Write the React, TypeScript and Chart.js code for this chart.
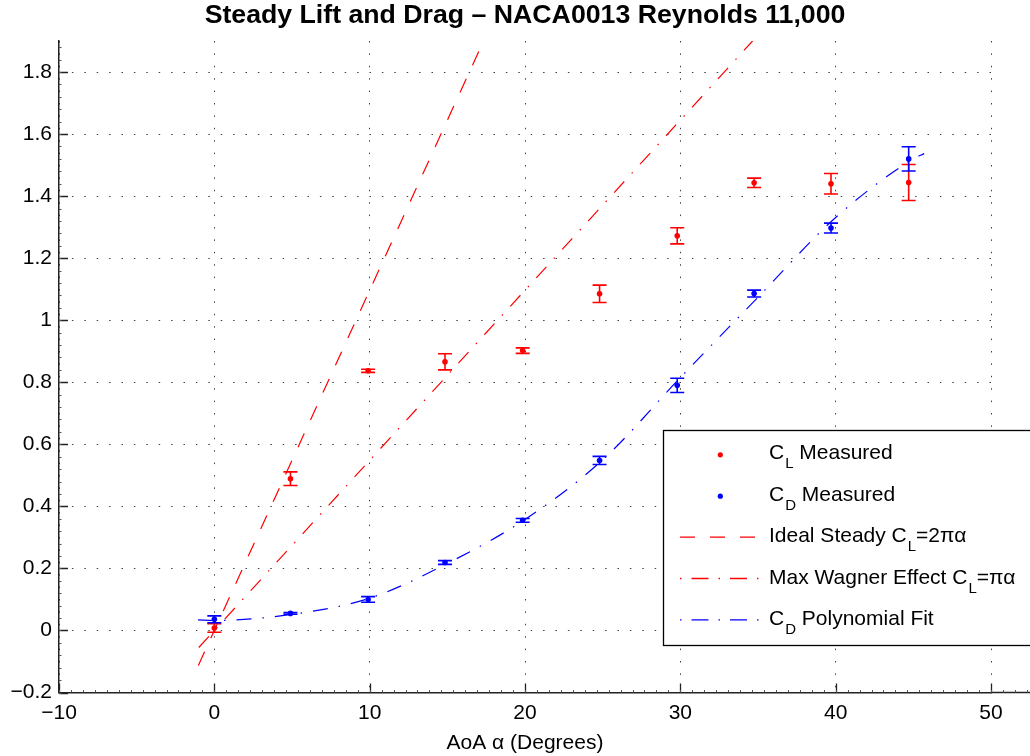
import React, { useEffect, useRef } from 'react';
import { Chart, registerables } from 'chart.js';

Chart.register(...registerables);

// ---------- data ----------
const alpha = [0, 4.9, 9.9, 14.85, 19.85, 24.8, 29.8, 34.75, 39.7, 44.7];
const clMeasured = [0.008, 0.489, 0.837, 0.866, 0.902, 1.085, 1.272, 1.443, 1.44, 1.444];
const clError = [0.014, 0.022, 0.005, 0.026, 0.009, 0.028, 0.026, 0.015, 0.033, 0.058];
const cdMeasured = [0.036, 0.055, 0.1, 0.219, 0.355, 0.548, 0.79, 1.086, 1.297, 1.52];
const cdError = [0.011, 0.003, 0.009, 0.006, 0.006, 0.013, 0.023, 0.011, 0.016, 0.039];

const idealX = [-1.03, 17.33];
const idealY = [-0.113, 1.9];
const wagnerX = [-1.0, 34.65];
const wagnerY = [-0.055, 1.9];
const fitX = [-1.05, 0, 5, 10, 15, 20, 25, 30, 35, 40, 45, 45.7];
const fitY = [0.034, 0.032, 0.052, 0.104, 0.216, 0.358, 0.55, 0.815, 1.074, 1.331, 1.52, 1.537];

const xTicks = [-10, 0, 10, 20, 30, 40, 50];
const yTicks = [-0.2, 0, 0.2, 0.4, 0.6, 0.8, 1, 1.2, 1.4, 1.6, 1.8];

const titleText = 'Steady Lift and Drag \u2013 NACA0013 Reynolds 11,000';
const xLabelText = 'AoA \u03b1 (Degrees)';

// legend rows: [text, isSubscript]
const legendRows: [string, boolean][][] = [
  [['C', false], ['L', true], [' Measured', false]],
  [['C', false], ['D', true], [' Measured', false]],
  [['Ideal Steady C', false], ['L', true], ['=2\u03c0\u03b1', false]],
  [['Max Wagner Effect C', false], ['L', true], ['=\u03c0\u03b1', false]],
  [['C', false], ['D', true], [' Polynomial Fit', false]],
];

const FONT = "'Liberation Sans', Arial, Helvetica, sans-serif";
const RED = '#ff0000';
const BLUE = '#0000ff';
const AXIS = '#222222';
const DASH = [15, 15];
const DASHDOT = [15, 11, 1.5, 11];

const fmt = (v: number) => {
  const r = Math.round(v * 10) / 10;
  return r.toString().replace('-', '\u2212');
};

const pts = (xs: number[], ys: number[]) => xs.map((x, i) => ({ x, y: ys[i] }));

export default function App() {
  const ref = useRef<HTMLCanvasElement>(null);

  useEffect(() => {
    const canvas = ref.current!;

    const decor = {
      id: 'decor',
      beforeDatasetsDraw(chart: any) {
        const ctx = chart.ctx;
        const xs = chart.scales.x;
        const ys = chart.scales.y;
        const ca = chart.chartArea;
        ctx.save();
        ctx.beginPath();
        ctx.rect(ca.left, ca.top - 10, ca.right - ca.left + 40, ca.bottom - ca.top + 10);
        ctx.clip();
        const bars = [
          { v: clMeasured, e: clError, c: RED },
          { v: cdMeasured, e: cdError, c: BLUE },
        ];
        bars.forEach(({ v, e, c }) => {
          ctx.strokeStyle = c;
          ctx.lineWidth = 1.6;
          alpha.forEach((a, i) => {
            const px = xs.getPixelForValue(a);
            const p1 = ys.getPixelForValue(v[i] - e[i]);
            const p2 = ys.getPixelForValue(v[i] + e[i]);
            ctx.beginPath();
            ctx.moveTo(px, p1);
            ctx.lineTo(px, p2);
            ctx.moveTo(px - 7, p1);
            ctx.lineTo(px + 7, p1);
            ctx.moveTo(px - 7, p2);
            ctx.lineTo(px + 7, p2);
            ctx.stroke();
          });
        });
        ctx.restore();
      },
      afterDraw(chart: any) {
        const ctx = chart.ctx;
        const xs = chart.scales.x;
        const ys = chart.scales.y;
        const ca = chart.chartArea;
        ctx.save();
        // axis extension to the right edge
        ctx.strokeStyle = AXIS;
        ctx.lineWidth = 1.5;
        ctx.beginPath();
        ctx.moveTo(ca.right, ca.bottom);
        ctx.lineTo(chart.width, ca.bottom);
        ctx.stroke();
        // major ticks (inward)
        ctx.lineWidth = 1.3;
        ctx.beginPath();
        xTicks.forEach((t) => {
          const px = Math.round(xs.getPixelForValue(t)) + 0.5;
          ctx.moveTo(px, ca.bottom);
          ctx.lineTo(px, ca.bottom - 9);
        });
        yTicks.forEach((t) => {
          const py = Math.round(ys.getPixelForValue(t)) + 0.5;
          ctx.moveTo(ca.left, py);
          ctx.lineTo(ca.left + 9, py);
        });
        ctx.stroke();
        // minor ticks
        ctx.strokeStyle = '#555';
        ctx.lineWidth = 1;
        ctx.beginPath();
        for (let v = -10; v <= 52.6; v += 10 / 13) {
          const px = Math.round(xs.getPixelForValue(v)) + 0.5;
          ctx.moveTo(px, ca.bottom);
          ctx.lineTo(px, ca.bottom - 2.5);
        }
        for (let v = -0.2; v <= 1.9; v += 0.04) {
          const py = Math.round(ys.getPixelForValue(v)) + 0.5;
          ctx.moveTo(ca.left, py);
          ctx.lineTo(ca.left + 2.5, py);
        }
        ctx.stroke();

        // title
        ctx.fillStyle = '#000';
        ctx.textAlign = 'center';
        ctx.textBaseline = 'alphabetic';
        ctx.font = `bold 26.7px ${FONT}`;
        ctx.fillText(titleText, (ca.left + ca.right) / 2, 23.3);
        // x label
        ctx.font = `21px ${FONT}`;
        ctx.fillText(xLabelText, (ca.left + ca.right) / 2, 749);

        // legend
        const lx = 663.5;
        const ly = 430.5;
        ctx.fillStyle = '#fff';
        ctx.fillRect(lx, ly, 420, 215);
        ctx.strokeStyle = '#000';
        ctx.lineWidth = 1.3;
        ctx.strokeRect(lx, ly, 420, 215);

        legendRows.forEach((parts, i) => {
          const base = 459.3 + i * 41.4;
          const iconY = base - 5;
          ctx.save();
          if (i < 2) {
            ctx.fillStyle = i === 0 ? RED : BLUE;
            ctx.beginPath();
            ctx.arc(720.3, base - 4.5, 2.6, 0, Math.PI * 2);
            ctx.fill();
          } else {
            ctx.strokeStyle = i === 4 ? BLUE : RED;
            ctx.lineWidth = 1.3;
            ctx.setLineDash(i === 2 ? DASH : [1.5, 10, 17, 10]);
            ctx.beginPath();
            ctx.moveTo(680, iconY);
            ctx.lineTo(760, iconY);
            ctx.stroke();
          }
          ctx.restore();
          let x = 769;
          ctx.textAlign = 'left';
          ctx.fillStyle = '#000';
          parts.forEach(([t, sub]) => {
            if (sub) {
              ctx.font = `15px ${FONT}`;
              ctx.fillText(t, x + 1, base + 9);
              x += ctx.measureText(t).width + 1;
            } else {
              ctx.font = `21px ${FONT}`;
              ctx.fillText(t, x, base);
              x += ctx.measureText(t).width;
            }
          });
        });
        ctx.restore();
      },
    };

    const chart = new Chart(canvas, {
      type: 'line',
      data: {
        datasets: [
          {
            label: 'CL Measured',
            data: pts(alpha, clMeasured),
            showLine: false,
            pointRadius: 2.8,
            pointBackgroundColor: RED,
            pointBorderColor: RED,
            pointBorderWidth: 0,
          },
          {
            label: 'CD Measured',
            data: pts(alpha, cdMeasured),
            showLine: false,
            pointRadius: 2.8,
            pointBackgroundColor: BLUE,
            pointBorderColor: BLUE,
            pointBorderWidth: 0,
          },
          {
            label: 'Ideal Steady',
            data: pts(idealX, idealY),
            borderColor: RED,
            borderWidth: 1.2,
            borderDash: DASH,
            pointRadius: 0,
            fill: false,
          },
          {
            label: 'Max Wagner',
            data: pts(wagnerX, wagnerY),
            borderColor: RED,
            borderWidth: 1.2,
            borderDash: DASHDOT,
            pointRadius: 0,
            fill: false,
          },
          {
            label: 'CD Fit',
            data: pts(fitX, fitY),
            borderColor: BLUE,
            borderWidth: 1.2,
            borderDash: DASHDOT,
            pointRadius: 0,
            cubicInterpolationMode: 'monotone',
            fill: false,
          },
        ],
      },
      options: {
        responsive: false,
        animation: false,
        devicePixelRatio: 1,
        events: [],
        layout: { padding: { top: 41, right: 39, left: 0, bottom: 0 } },
        plugins: {
          legend: { display: false },
          title: { display: false },
          tooltip: { enabled: false },
        },
        scales: {
          x: {
            type: 'linear',
            min: -10,
            max: 50,
            afterBuildTicks: (s: any) => {
              s.ticks = xTicks.map((v) => ({ value: v }));
            },
            afterFit: (s: any) => {
              s.height = 63.5;
            },
            grid: { color: 'rgba(0,0,0,0.75)', lineWidth: 1, drawTicks: false },
            border: { display: true, color: AXIS, width: 1.5, dash: [1.5, 10.9] },
            ticks: {
              font: { family: FONT, size: 21 },
              color: '#000',
              padding: 7.7,
              maxRotation: 0,
              autoSkip: false,
              callback: (v: any) => fmt(Number(v)),
            },
          },
          y: {
            type: 'linear',
            min: -0.2,
            max: 1.9,
            afterBuildTicks: (s: any) => {
              s.ticks = yTicks.map((v) => ({ value: v }));
            },
            afterFit: (s: any) => {
              s.width = 59;
            },
            grid: { color: 'rgba(0,0,0,0.75)', lineWidth: 1, drawTicks: false },
            border: { display: true, color: AXIS, width: 1.5, dash: [1.5, 10.9] },
            ticks: {
              font: { family: FONT, size: 21 },
              color: '#000',
              padding: 7,
              autoSkip: false,
              callback: (v: any) => fmt(Number(v)),
            },
          },
        },
      },
      plugins: [decor],
    } as any);

    return () => chart.destroy();
  }, []);

  return (
    <div style={{ position: 'absolute', left: 0, top: 0, width: 1030, height: 756, background: '#fff' }}>
      <canvas ref={ref} width={1030} height={756} style={{ display: 'block' }} />
    </div>
  );
}
